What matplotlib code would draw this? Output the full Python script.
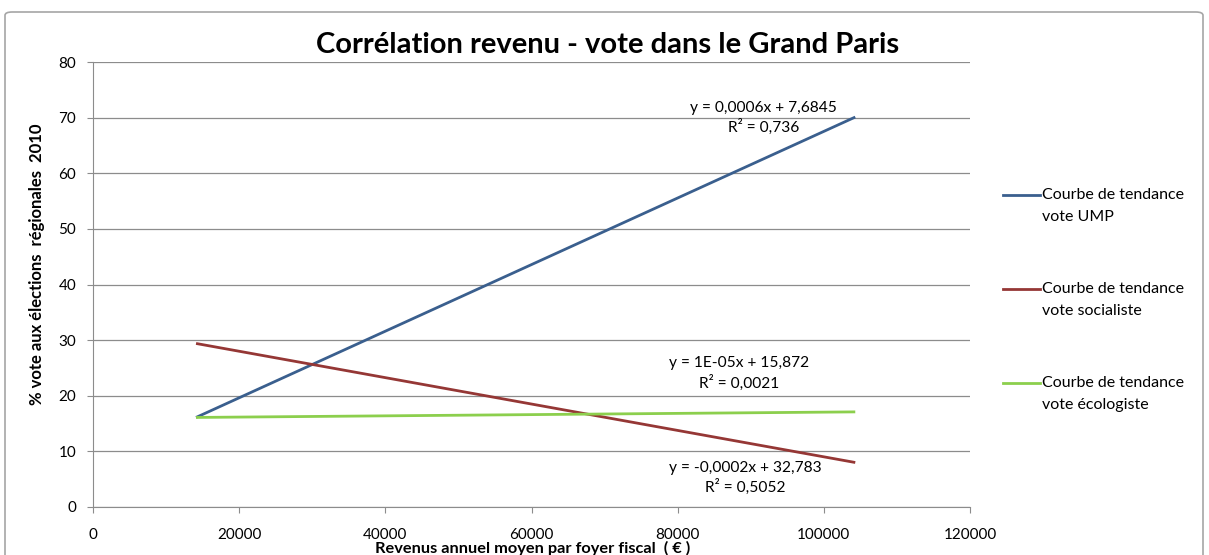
import matplotlib.pyplot as plt
from matplotlib.patches import FancyBboxPatch
from matplotlib.lines import Line2D

# données (extrémités des courbes de tendance)
revenu = [14100, 104300]
ump = [16.1, 70.1]
socialiste = [29.4, 8.0]
ecologiste = [16.1, 17.1]

labels = ["Courbe de tendance\nvote UMP",
          "Courbe de tendance\nvote socialiste",
          "Courbe de tendance\nvote écologiste"]
couleurs = ["#3A5F8E", "#953735", "#8CCF4D"]

equations = ["y = 0,0006x + 7,6845\nR² = 0,736",
             "y = -0,0002x + 32,783\nR² = 0,5052",
             "y = 1E-05x + 15,872\nR² = 0,0021"]
eq_pos = [(91800, 70.0), (89300, 5.2), (88400, 24.0)]

plt.rcParams['font.family'] = ['Lato', 'DejaVu Sans']

W, H = 1209, 555
fig = plt.figure(figsize=(W/100, H/100), dpi=100)
ax = fig.add_axes([93/W, 1-507/H, (970-93)/W, (507-62)/H])

# cadre extérieur du graphique
cadre = FancyBboxPatch((5/W, -0.05), 1198/W, (H-12)/H + 0.05,
                       boxstyle="round,pad=0,rounding_size=0.006",
                       transform=fig.transFigure, facecolor="none",
                       edgecolor="#a6a6a6", linewidth=1.2)
fig.patches.append(cadre)

series = [ump, socialiste, ecologiste]
for ys, c in zip(series, couleurs):
    ax.plot(revenu, ys, color=c, lw=2.0, solid_capstyle='butt')

for txt, (x, y) in zip(equations, eq_pos):
    ax.text(x, y, txt, ha='center', va='center', fontsize=11.2, linespacing=1.3)

ax.set_xlim(0, 120000)
ax.set_ylim(0, 80)
ax.set_xticks(range(0, 120001, 20000))
ax.set_yticks(range(0, 81, 10))
ax.grid(axis='y', color='#8c8c8c', lw=0.9)
ax.set_axisbelow(True)
for s in ['top', 'right']:
    ax.spines[s].set_visible(False)
for s in ['left', 'bottom']:
    ax.spines[s].set_color('#8c8c8c')
ax.tick_params(colors='#8c8c8c', labelcolor='black', labelsize=11, length=4)
ax.tick_params(axis='x', pad=11)
ax.tick_params(axis='y', pad=8)

fig.text(608/W, 1-45/H, "Corrélation revenu - vote dans le Grand Paris",
         ha='center', va='center', fontsize=21, fontweight='bold')
fig.text(37/W, 1-264/H, "% vote aux élections  régionales  2010",
         rotation=90, ha='center', va='center', fontsize=12, fontweight='bold')
fig.text(533/W, 1-548/H, "Revenus annuel moyen par foyer fiscal  ( € )",
         ha='center', va='center', fontsize=11.8, fontweight='bold')

# légende à la manière d'Excel : trait aligné sur la première ligne
for i, (lab, c) in enumerate(zip(labels, couleurs)):
    y0 = 195 + 94 * i
    fig.add_artist(Line2D([1003/W, 1040/W], [1-y0/H, 1-y0/H], color=c, lw=2.0))
    fig.text(1042/W, 1-(y0-7)/H, lab, ha='left', va='top', fontsize=11.5,
             linespacing=1.75)

fig.savefig("out.png", dpi=100)
